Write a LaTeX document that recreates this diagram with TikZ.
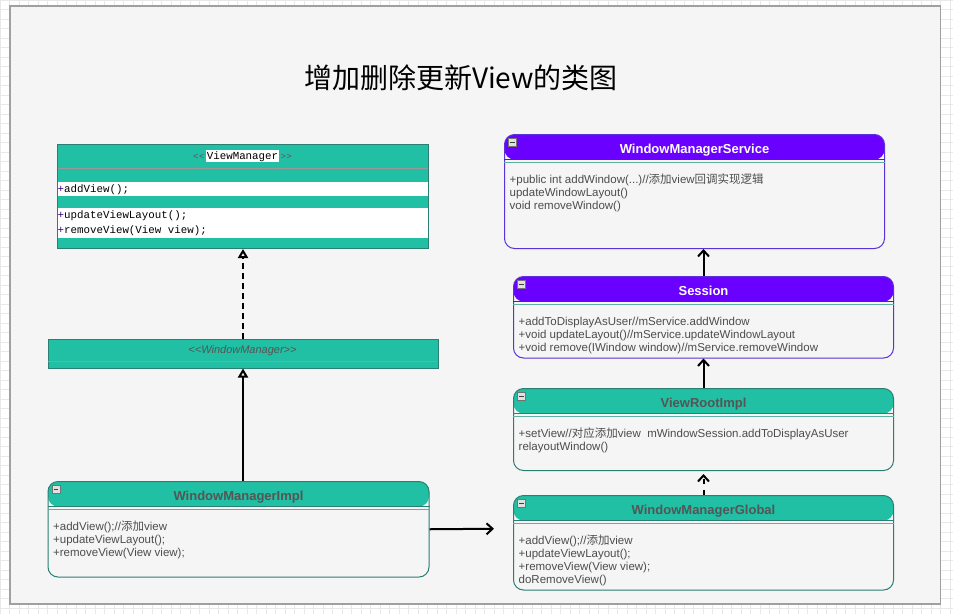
\documentclass[tikz,border=0pt]{standalone}
\usepackage{fontspec}
\setmainfont{Liberation Sans}
\newfontfamily\cjk{Noto Sans CJK SC}
\newfontfamily\monof{Liberation Mono}
\usetikzlibrary{arrows.meta}
\definecolor{tealfill}{HTML}{21BFA3}
\definecolor{tealline}{HTML}{2A7F72}
\definecolor{teallight}{HTML}{5FAFA2}
\definecolor{purplefill}{HTML}{6A00FF}
\definecolor{purpleline}{HTML}{5B32DA}
\definecolor{panelbg}{HTML}{F5F5F5}
\definecolor{panelline}{HTML}{A0A0A0}
\definecolor{gridc}{HTML}{E8E8E8}
\definecolor{bodytext}{HTML}{4D4D4D}
\definecolor{titlegray}{HTML}{555555}
\definecolor{plusc}{HTML}{330080}
\definecolor{anglec}{HTML}{6E4A6E}
\newcommand{\classbox}[8]{%
  \node[#2cls, minimum width=#5pt, minimum height=#6pt] (#1) at (#3,#4) {};
  \draw[#2sep] ([yshift=-25pt]#1.north west) -- ([yshift=-25pt]#1.north east);
  \draw[sepb] ([yshift=-28.5pt]#1.north west) -- ([yshift=-28.5pt]#1.north east);
  \node[#2title] (#1-t) at ([yshift=-19pt]#1.north) {#7};
  \node[bodytxt] (#1-b) at ([xshift=5.5pt,yshift=-40pt]#1.north west) {\strut #8};
  \node[minusicon] (#1-m) at ([xshift=8.5pt,yshift=-8.5pt]#1.north west) {};
}
\begin{document}
\begin{tikzpicture}[x=1pt,y=-1pt,
  classbox/.style={rectangle, rounded corners=10pt, fill=panelbg, line width=1pt, inner sep=0pt, anchor=north west},
  tealcls/.style={classbox, draw=tealline, path picture={\fill[tealfill] (path picture bounding box.north west) rectangle ([yshift=-25pt]path picture bounding box.north east);}},
  purplecls/.style={classbox, draw=purpleline, path picture={\fill[purplefill] (path picture bounding box.north west) rectangle ([yshift=-25pt]path picture bounding box.north east);}},
  tealsep/.style={tealline, line width=1pt},
  purplesep/.style={purplefill, line width=1pt},
  sepb/.style={teallight, line width=1pt},
  tealtitle/.style={anchor=base, inner sep=0pt, font=\bfseries\fontsize{13}{15}\selectfont, text=titlegray},
  purpletitle/.style={anchor=base, inner sep=0pt, font=\bfseries\fontsize{13}{15}\selectfont, text=white},
  bodytxt/.style={anchor=north west, inner sep=0pt, align=left, font=\fontsize{11.5}{13}\selectfont, text=bodytext},
  minusicon/.style={rectangle, draw=black!55, fill=black!12, minimum size=8pt, inner sep=0pt, line width=0.6pt,
    path picture={\draw[black!75,line width=1pt] ([xshift=1.8pt]path picture bounding box.west) -- ([xshift=-1.8pt]path picture bounding box.east);}},
  vmbox/.style={rectangle, draw=tealline, fill=tealfill, line width=1pt, inner sep=0pt, anchor=north west},
  vmtext/.style={inner sep=0pt, anchor=base west, font=\monof\fontsize{10.8}{13}\selectfont, text=black},
  angletext/.style={inner sep=0pt, anchor=base, font=\monof\fontsize{9}{10}\selectfont, text=anglec},
  wmtext/.style={inner sep=0pt, anchor=base, font=\itshape\fontsize{11}{13}\selectfont, text=titlegray},
  genarrow/.style={line width=2pt, -{Triangle[open,length=9pt,width=10pt]}},
  linkarrow/.style={line width=2pt, -{Straight Barb[length=6pt,width=11pt]}}
]
\useasboundingbox (0,0) rectangle (953,614);
\fill[white] (0,0) rectangle (953,614);
\foreach \gx in {0,9.5,...,953} \draw[gridc, line width=0.6pt] (\gx,0) -- (\gx,614);
\foreach \gy in {0,9.5,...,614} \draw[gridc, line width=0.6pt] (0,\gy) -- (953,\gy);
\draw[panelline, line width=1.7pt, fill=panelbg] (10,6.3) rectangle (940.5,603.7);

% title
\node (title) at (461,78) {\cjk\fontsize{28}{32}\selectfont 增加删除更新View的类图};

% ViewManager
\node[vmbox, minimum width=371pt, minimum height=104pt] (vm) at (57,144) {};
\draw[black!40, line width=0.8pt] (57.5,168) -- (427.5,168);
\fill[white] (57.5,181.7) rectangle (427.5,195.7);
\fill[white] (57.5,208) rectangle (427.5,238);
\node[vmtext, anchor=base] (vm-t) at (242.5,159) {{\setlength\fboxsep{1pt}\colorbox{white}{ViewManager}}};
\node[angletext, anchor=base east] (vm-la) at (vm-t.base west) {\textless\kern0.5pt\textless\kern1pt};
\node[angletext, anchor=base west] (vm-ra) at (vm-t.base east) {\kern1pt\textgreater\kern0.5pt\textgreater};
\node[vmtext] (vm-m1) at (57.5,192.5) {\textcolor{plusc}{+}addView();};
\node[vmtext] (vm-m2) at (57.5,218.5) {\textcolor{plusc}{+}updateViewLayout();};
\node[vmtext] (vm-m3) at (57.5,233.5) {\textcolor{plusc}{+}removeView(View view);};

% WindowManager
\node[vmbox, minimum width=390pt, minimum height=29pt] (wm) at (47.5,338.5) {};
\draw[black!40, line width=0.8pt] (48,361.7) -- (437,361.7);
\node[wmtext] (wm-t) at (242.5,353.5) {<\kern0pt<WindowManager>\kern0pt>};

% classes
\classbox{wmi}{teal}{47.5}{481}{381}{95.5}{WindowManagerImpl}{+addView();//{\cjk 添加}view\\+updateViewLayout();\\+removeView(View view);}
\classbox{wms}{purple}{504}{134}{380}{114}{WindowManagerService}{+public int addWindow(...)//{\cjk 添加}view{\cjk 回调实现逻辑}\\updateWindowLayout()\\void removeWindow()}
\classbox{ses}{purple}{513}{276}{380}{81.5}{Session}{+addToDisplayAsUser//mService.addWindow\\+void updateLayout()//mService.updateWindowLayout\\+void remove(IWindow window)//mService.removeWindow}
\classbox{vri}{teal}{513}{388}{380}{82}{ViewRootImpl}{+setView//{\cjk 对应添加}view\ \ mWindowSession.addToDisplayAsUser\\relayoutWindow()}
\classbox{wmg}{teal}{513}{495}{380}{94.5}{WindowManagerGlobal}{+addView();//{\cjk 添加}view\\+updateViewLayout();\\+removeView(View view);\\doRemoveView()}

% connectors
\draw[genarrow, dash pattern=on 6pt off 4pt] (wm.north) -- (vm.south);
\draw[genarrow] (wmi.north -| wm.south) -- (wm.south);
\coordinate (wmi-to) at (494,528.75);
\draw[linkarrow] (wmi.east) -- (wmi-to);
\draw[linkarrow] (ses.north) -- (ses.north |- wms.south);
\draw[linkarrow] (vri.north) -- (ses.south);
\draw[linkarrow, dash pattern=on 5pt off 6pt, shorten >=3pt] (wmg.north) -- (vri.south);
\end{tikzpicture}
\end{document}
